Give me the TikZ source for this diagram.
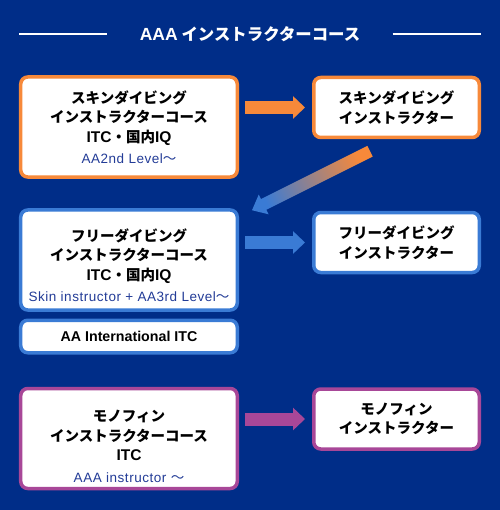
\documentclass[tikz,border=0pt]{standalone}
\usepackage{fontspec}
\setmainfont{Noto Sans CJK JP}
\newfontfamily\latin{Liberation Sans}[Scale=1.07]
\newfontfamily\latinwide{Liberation Sans}[LetterSpace=4]
\usetikzlibrary{arrows.meta,calc}

\definecolor{navy}{RGB}{0,45,136}
\definecolor{skinorange}{RGB}{247,137,58}
\definecolor{freeblue}{RGB}{58,123,213}
\definecolor{monopurple}{RGB}{168,71,152}
\definecolor{leveltext}{RGB}{35,60,151}

% last (blue) line of a course box
\newcommand{\level}[1]{\\[2bp]{\mdseries\fontsize{13.5bp}{15bp}\selectfont\color{leveltext}#1}}
\newcommand{\wave}{{\normalfont\fontsize{13.5bp}{15bp}\selectfont 〜}}
\newcommand{\drop}[1]{\rule{0pt}{#1}}

\begin{document}
\begin{tikzpicture}[x=1bp,y=-1bp,
    course/.style={draw,line width=3.5bp,fill=white,rounded corners=7bp,
        minimum width=216.5bp,minimum height=100bp,align=center,
        font=\bfseries\fontsize{14.5bp}{19.5bp}\selectfont},
    pro/.style={course,minimum width=165.5bp,minimum height=60bp},
    block/.style={line width=13bp,-{Triangle[length=12bp,width=22bp]},
        shorten <=6bp,shorten >=7bp}]

  \fill[navy] (0,0) rectangle (500,510);

  \node[text=white,font=\bfseries\fontsize{16.4bp}{18bp}\selectfont] (title) at (250,34) {{\latin AAA} インストラクターコース};
  \coordinate (ruleL) at (19,34);
  \coordinate (ruleR) at (481,34);
  \draw[white,line width=1.2bp] (ruleL) -- ([xshift=-29bp]title.west);
  \draw[white,line width=1.2bp] ([xshift=29bp]title.east) -- (ruleR);

  \node[course,draw=skinorange] (skincourse) at (129,127) {スキンダイビング\\インストラクターコース\\{\latin ITC}・国内{\latin IQ}\level{\latinwide AA2nd Level\wave}};
  \node[pro,draw=skinorange] (skinpro) at (396.5,107.5) {スキンダイビング\\インストラクター};
  \node[course,draw=freeblue] (freecourse) at (129,260) {\drop{23bp}フリーダイビング\\インストラクターコース\\{\latin ITC}・国内{\latin IQ}\level{\latinwide Skin instructor + AA3rd Level\wave}};
  \node[pro,draw=freeblue] (freepro) at (396.5,242.5) {フリーダイビング\\インストラクター};
  \node[course,draw=freeblue,minimum height=32.5bp,font=\bfseries\latin\fontsize{13.3bp}{17bp}\selectfont] (aaitc) at (129,336.5) {AA International ITC};
  \node[course,draw=monopurple] (monocourse) at (129,438.5) {\drop{27bp}モノフィン\\インストラクターコース\\{\latin ITC}\level{\latinwide AAA instructor \wave}};
  \node[pro,draw=monopurple] (monopro) at (396.5,419) {モノフィン\\インストラクター};

  \draw[block,skinorange] (skincourse.east |- skinpro) -- (skinpro.west);
  \draw[block,freeblue] (freecourse.east |- freepro) -- (freepro.west);
  \draw[block,monopurple] (monocourse.east |- monopro) -- (monopro.west);

  % skin pro -> free course, orange to blue
  \coordinate (ds) at ([shift={(-26.5,12)}]skinpro.south);
  \coordinate (de) at ([shift={(13,2)}]freecourse.north east);
  \coordinate (dh) at ($(de)!13bp!(ds)$);
  \shade[bottom color=freeblue,top color=skinorange,shading angle=-63.4]
    ($(ds)!6bp!90:(de)$) -- ($(dh)!6bp!90:(de)$) -- ($(dh)!11bp!90:(de)$) -- (de)
    -- ($(dh)!11bp!-90:(de)$) -- ($(dh)!6bp!-90:(de)$) -- ($(ds)!6bp!-90:(de)$) -- cycle;

\end{tikzpicture}
\end{document}
